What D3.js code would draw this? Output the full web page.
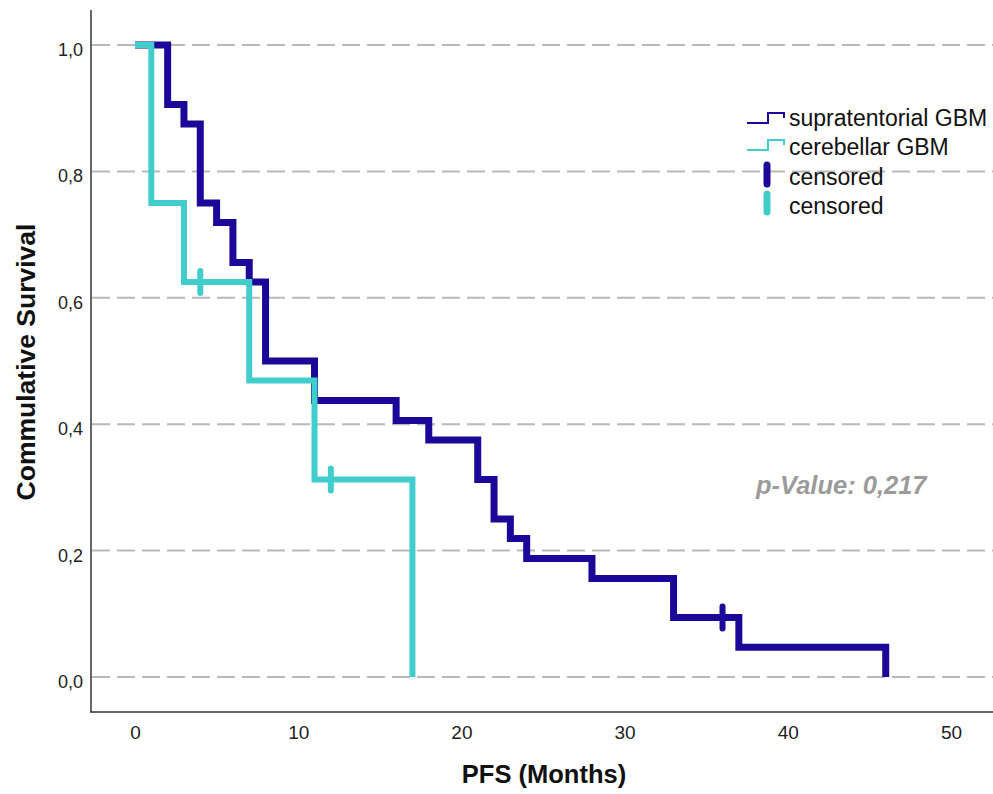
<!DOCTYPE html>
<html>
<head>
<meta charset="utf-8">
<script src="https://cdn.jsdelivr.net/npm/d3@7"></script>
<style>
  body { margin: 0; background: #fff; }
  svg { display: block; font-family: Arial, "Liberation Sans", Helvetica, sans-serif; }
</style>
</head>
<body>
<svg id="chart" width="993" height="794"></svg>
<script>
// ---- data ----
const supraTime = [0, 2, 3, 4, 5, 6, 7, 8, 11, 16, 18, 21, 22, 23, 24, 28, 33, 37, 46];
const supraSurv = [1.0, 0.906, 0.875, 0.75, 0.719, 0.656, 0.625, 0.5, 0.4375, 0.406, 0.375, 0.3125, 0.25, 0.219, 0.1875, 0.156, 0.094, 0.047, 0.0];
const supraCensorTime = [36];
const supraCensorSurv = [0.094];

const cerebTime = [0, 1, 3, 7, 11, 17];
const cerebSurv = [1.0, 0.75, 0.625, 0.469, 0.3125, 0.0];
const cerebCensorTime = [4, 12];
const cerebCensorSurv = [0.625, 0.3125];

const xTicks = [0, 10, 20, 30, 40, 50];
const yTicks = [0, 0.2, 0.4, 0.6, 0.8, 1.0];
const legendLabels = ["supratentorial GBM", "cerebellar GBM", "censored", "censored"];
const pValueText = "p-Value: 0,217";

const colSupra = "#1c0898";
const colCereb = "#42cdcd";

// ---- scales ----
const svg = d3.select("#chart");
const x = d3.scaleLinear().domain([0, 50]).range([135, 951]);
const y = d3.scaleLinear().domain([0, 1]).range([677, 45]);
const fmt = d => d3.format(".1f")(d).replace(".", ",");

// gridlines
svg.append("g").selectAll("line").data(yTicks).join("line")
  .attr("x1", 92).attr("x2", 993)
  .attr("y1", d => y(d)).attr("y2", d => y(d))
  .attr("stroke", "#b9b9b9").attr("stroke-width", 2)
  .attr("stroke-dasharray", "18,7");

// y axis
const yAxis = svg.append("g").attr("transform", "translate(91,0)")
  .call(d3.axisLeft(y).tickValues(yTicks).tickFormat(fmt).tickSize(0).tickPadding(8));
yAxis.select(".domain").remove();
yAxis.selectAll("text").attr("font-size", 18).attr("fill", "#222").attr("dy", "0.58em")
  .attr("font-family", "Arial, 'Liberation Sans', sans-serif");
svg.append("line").attr("x1", 91).attr("x2", 91).attr("y1", 10).attr("y2", 712)
  .attr("stroke", "#333").attr("stroke-width", 1.5);

// x axis
const xAxis = svg.append("g").attr("transform", "translate(0,712)")
  .call(d3.axisBottom(x).tickValues(xTicks).tickFormat(d3.format("d")).tickSize(0).tickPadding(14));
xAxis.select(".domain").remove();
xAxis.selectAll("text").attr("font-size", 19).attr("fill", "#222")
  .attr("font-family", "Arial, 'Liberation Sans', sans-serif");
svg.append("line").attr("x1", 90).attr("x2", 993).attr("y1", 712).attr("y2", 712)
  .attr("stroke", "#333").attr("stroke-width", 1.5);

// axis titles
svg.append("text").attr("x", 544).attr("y", 783).attr("text-anchor", "middle")
  .attr("font-size", 25.5).attr("font-weight", "bold").attr("fill", "#111")
  .text("PFS (Months)");
svg.append("text").attr("transform", "translate(35,362) rotate(-90)").attr("text-anchor", "middle")
  .attr("font-size", 26.5).attr("font-weight", "bold").attr("fill", "#111")
  .text("Commulative Survival");

// survival curves
const line = d3.line().x(d => x(d[0])).y(d => y(d[1])).curve(d3.curveStepAfter);
const supraData = supraTime.map((t, i) => [t, supraSurv[i]]);
const cerebData = cerebTime.map((t, i) => [t, cerebSurv[i]]);

svg.append("path").datum(supraData).attr("d", line)
  .attr("fill", "none").attr("stroke", colSupra).attr("stroke-width", 7)
  .attr("stroke-linejoin", "miter");
svg.append("path").datum(cerebData).attr("d", line)
  .attr("fill", "none").attr("stroke", colCereb).attr("stroke-width", 6)
  .attr("stroke-linejoin", "miter");

// censor marks
function censor(times, survs, col) {
  svg.append("g").selectAll("line").data(times.map((t, i) => [t, survs[i]])).join("line")
    .attr("x1", d => x(d[0])).attr("x2", d => x(d[0]))
    .attr("y1", d => y(d[1]) - 11).attr("y2", d => y(d[1]) + 11)
    .attr("stroke", col).attr("stroke-width", 6).attr("stroke-linecap", "round");
}
censor(supraCensorTime, supraCensorSurv, colSupra);
censor(cerebCensorTime, cerebCensorSurv, colCereb);

// legend
const lg = svg.append("g");
const legendCols = [colSupra, colCereb];
[125, 152].forEach((by, i) => {
  lg.append("path")
    .attr("d", `M747,${by - 2} H768 V${by - 12} H784 V${by - 7}`)
    .attr("fill", "none").attr("stroke", legendCols[i]).attr("stroke-width", 2);
});
[[162, 187], [191, 215]].forEach((r, i) => {
  lg.append("line").attr("x1", 767).attr("x2", 767).attr("y1", r[0] + 3).attr("y2", r[1] - 3)
    .attr("stroke", legendCols[i]).attr("stroke-width", 7).attr("stroke-linecap", "round");
});
const lBase = [126, 155, 185, 214];
legendLabels.forEach((t, i) => {
  lg.append("text").attr("x", 789).attr("y", lBase[i]).attr("font-size", 23).attr("fill", "#111").text(t);
});

// p-value
svg.append("text").attr("x", 756).attr("y", 494).attr("font-size", 25.5)
  .attr("font-weight", "bold").attr("font-style", "italic").attr("fill", "#9b9b9b")
  .text(pValueText);
</script>
</body>
</html>
